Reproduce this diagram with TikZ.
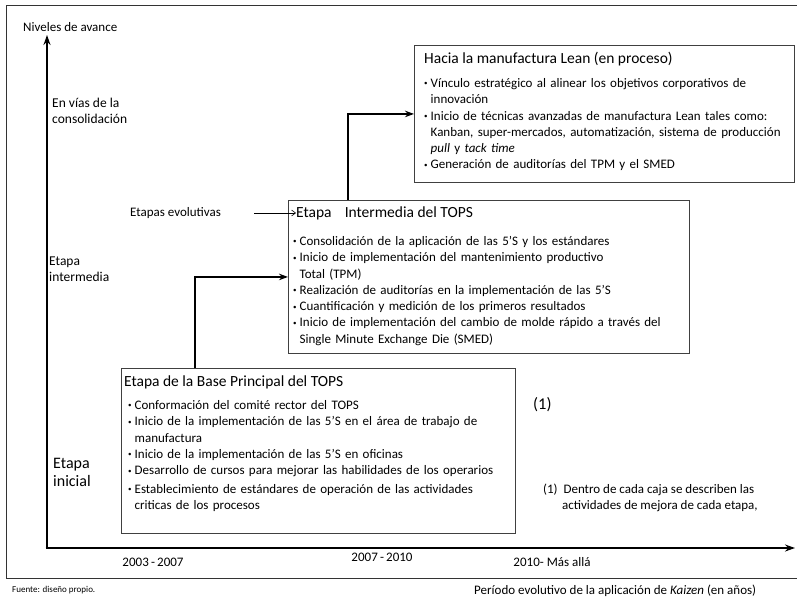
\documentclass[tikz,border=0pt]{standalone}
\usepackage{fontspec}
\setmainfont{Carlito}
\usetikzlibrary{arrows.meta,positioning,calc}

\newcommand{\bul}{\par\leftskip=0pt\hangindent=0.5em\hangafter=1\noindent
  \makebox[0.5em][l]{\raisebox{0.25ex}{\scriptsize\textbullet}}}

\begin{document}
\begin{tikzpicture}[x=1pt,y=-1pt,
    caja/.style={draw=black!75,line width=0.9pt,anchor=north west,inner sep=0pt},
    titulo/.style={anchor=west,inner sep=0pt,font=\fontsize{15.5}{18}\selectfont},
    lista/.style={anchor=north west,inner sep=0pt,align=left,
      font=\fontsize{13}{16.3}\selectfont},
    lbl/.style={anchor=west,inner sep=0pt,align=left,font=\fontsize{13}{15.5}\selectfont},
    eje/.style={line width=2.6pt,-{Stealth[length=10pt,width=7pt]}},
    flecha/.style={line width=2pt,-{Stealth[length=9pt,width=6.5pt]}}]
  \useasboundingbox (0,0) rectangle (797,601);
  \draw[black!80,line width=0.9pt] (797,5) -- (6,5) -- (6,578) -- (797,578);
  % ejes
  \coordinate (origen) at (47,548);
  \coordinate (ytope) at (47,35);
  \coordinate (xfin) at (795,548);
  \draw[eje] (origen) -- (ytope);
  \draw[eje] ([xshift=-1.3pt]origen) -- (xfin);
  \node[lbl] (niveles) at (23,27) {Niveles de avance};
  \node[lbl,font=\fontsize{13.5}{15.5}\selectfont] (envias) at (52,111) {En vías de la\\consolidación};
  \node[lbl,font=\fontsize{13.5}{15.5}\selectfont] (etint) at (49,269) {Etapa\\intermedia};
  \node[lbl,font=\fontsize{16}{18}\selectfont] (etini) at (53,472) {Etapa\\inicial};
  \node[lbl] (evol) at (130,213) {Etapas evolutivas};
  % cajas
  \node[caja,minimum width=394pt,minimum height=165pt] (base) at (121,368) {};
  \node[caja,minimum width=401pt,minimum height=153pt] (inter) at (288,200) {};
  \node[caja,minimum width=380pt,minimum height=137pt] (lean) at (414,45) {};
  \node[titulo] (baset) at (124,382) {Etapa de la Base Principal del TOPS};
  \node[lista,text width=385pt] (basel) at (128,393) {%
    \bul Conformación del comité rector del TOPS
    \bul Inicio de la implementación de las 5’S en el área de trabajo de\newline manufactura
    \bul Inicio de la implementación de las 5’S en oficinas
    \bul Desarrollo de cursos para mejorar las habilidades de los operarios\par\vspace{2pt}
    \bul Establecimiento de estándares de operación de las actividades\newline criticas de los procesos\par};
  \node[titulo] (intert) at (296,213) {Etapa\hspace{0.85em}Intermedia del TOPS};
  \node[lista,text width=390pt] (interl) at (293,229) {%
    \bul Consolidación de la aplicación de las 5’S y los estándares
    \bul Inicio de implementación del mantenimiento productivo\newline Total (TPM)
    \bul Realización de auditorías en la implementación de las 5’S
    \bul Cuantificación y medición de los primeros resultados
    \bul Inicio de implementación del cambio de molde rápido a través del\newline Single Minute Exchange Die (SMED)\par};
  \node[titulo] (leant) at (424,59) {Hacia la manufactura Lean (en proceso)};
  \node[lista,text width=368pt] (leant2) at (424,71) {%
    \bul Vínculo estratégico al alinear los objetivos corporativos de\newline innovación
    \bul Inicio de técnicas avanzadas de manufactura Lean tales como:\newline
      Kanban, super-mercados, automatización, sistema de producción\newline
      \textit{pull} y \textit{tack time}
    \bul Generación de auditorías del TPM y el SMED\par};
  % conectores
  \draw[flecha] ([xshift=74pt]base.north west) |- (inter.west);
  \draw[flecha] ([xshift=60pt]inter.north west) |- (lean.west);
  \draw[-{Straight Barb[length=4pt,width=6pt]},line width=0.6pt]
    ([xshift=33pt]evol.east) -- (intert.west);
  % notas
  \node[lbl,font=\fontsize{16.5}{18}\selectfont] (uno) at (533,405) {(1)};
  \node[lbl,anchor=north west] (nota) at (543,484) {%
    (1)\ \ Dentro de cada caja se describen las\\
    \hspace*{1.45em}actividades de mejora de cada etapa,};
  \node[lbl,anchor=center] (a1) at (153,562) {2003\,-\,2007};
  \node[lbl,anchor=center] (a2) at (382,557) {2007\,-\,2010};
  \node[lbl,anchor=center] (a3) at (552,562) {2010- Más allá};
  \node[lbl,font=\fontsize{9}{11}\selectfont] (fuente) at (12,590) {Fuente: diseño propio.};
  \node[lbl] (periodo) at (474,591)
    {Período evolutivo de la aplicación de \textit{Kaizen} (en años)};
\end{tikzpicture}
\end{document}
